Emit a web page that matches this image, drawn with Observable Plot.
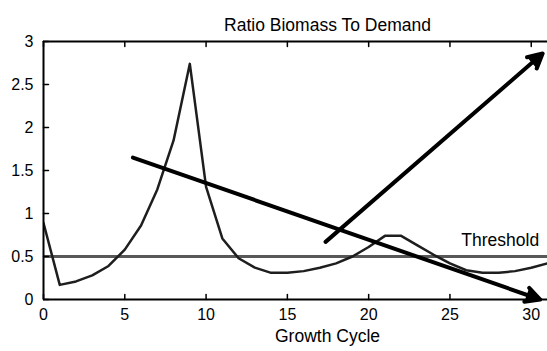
<!DOCTYPE html>
<html>
<head>
<meta charset="utf-8">
<script src="https://cdn.jsdelivr.net/npm/d3@7"></script>
<script src="https://cdn.jsdelivr.net/npm/@observablehq/plot@0.6"></script>
<style>
  body { margin: 0; background: #fff; }
  svg g[aria-label="arrow"] path { fill: #000; }
</style>
</head>
<body>
<div id="chart"></div>
<script>
const title = "Ratio Biomass To Demand";
const xLabel = "Growth Cycle";
const thresholdLabel = "Threshold";

const cycles = [0,1,2,3,4,5,6,7,8,9,10,11,12,13,14,15,16,17,18,19,20,21,22,23,24,25,26,27,28,29,30,31];
const ratios = [0.89,0.17,0.21,0.28,0.39,0.58,0.86,1.28,1.85,2.74,1.31,0.71,0.48,0.37,0.31,0.31,0.33,0.37,0.42,0.50,0.61,0.74,0.74,0.63,0.52,0.42,0.34,0.31,0.31,0.33,0.37,0.42];

const threshold = [0.5];

const arrowX1 = [5.5, 17.35];
const arrowY1 = [1.65, 0.67];
const arrowX2 = [30.55, 30.7];
const arrowY2 = [0.0, 2.86];

const xTicks = [0,5,10,15,20,25,30];
const yTicks = [0,0.5,1,1.5,2,2.5,3];

const series = cycles.map((c, i) => ({cycle: c, ratio: ratios[i]}));
const arrows = arrowX1.map((x, i) => ({x1: x, y1: arrowY1[i], x2: arrowX2[i], y2: arrowY2[i]}));

const font = "'Liberation Sans', Arial, sans-serif";
const tickShape = {draw(context, l) { context.moveTo(0, 0); context.lineTo(0, -l); }};
const yMin = d3.min(yTicks), yMax = d3.max(yTicks);

const chart = Plot.plot({
  width: 547,
  height: 351,
  marginLeft: 43,
  marginRight: 0,
  marginTop: 41,
  marginBottom: 52,
  style: {fontFamily: font, fontSize: "16px", color: "#000", background: "#fff"},
  x: {domain: [0, 31]},
  y: {domain: [yMin, yMax]},
  marks: [
    Plot.ruleY(threshold, {stroke: "#585858", strokeWidth: 3}),
    Plot.line(series, {x: "cycle", y: "ratio", stroke: "#1e1e1e", strokeWidth: 2.5, clip: true}),
    Plot.ruleY([yMin, yMax], {stroke: "#000", strokeWidth: 2}),
    Plot.ruleX([0], {stroke: "#000", strokeWidth: 2}),
    Plot.vector(xTicks, {x: d => d, y: yMin, length: 5, rotate: 0, anchor: "start", shape: tickShape, stroke: "#000", strokeWidth: 1.5}),
    Plot.vector(xTicks, {x: d => d, y: yMax, length: 5, rotate: 180, anchor: "start", shape: tickShape, stroke: "#000", strokeWidth: 1.5}),
    Plot.vector(yTicks, {x: 0, y: d => d, length: 5, rotate: 90, anchor: "start", shape: tickShape, stroke: "#000", strokeWidth: 1.5}),
    Plot.axisX(xTicks, {anchor: "bottom", tickSize: 0, tickPadding: 9, label: null, fontSize: 16, tickFormat: d => String(d)}),
    Plot.axisY(yTicks, {anchor: "left", tickSize: 0, tickPadding: 10, label: null, fontSize: 16, tickFormat: d => String(d)}),
    Plot.text([thresholdLabel], {x: arrowX2.slice(0,1), y: threshold, text: d => d, textAnchor: "end", dy: -16, dx: -1, fontSize: 17.5}),
    Plot.arrow(arrows, {x1: "x1", y1: "y1", x2: "x2", y2: "y2", stroke: "#000", strokeWidth: 4, headLength: 6, headAngle: 55}),
    Plot.text([title], {frameAnchor: "top", dx: 32, dy: -23, fontSize: 17.5, text: d => d}),
    Plot.text([xLabel], {frameAnchor: "bottom", dx: 32, dy: 42, fontSize: 17.5, text: d => d})
  ]
});
document.getElementById("chart").appendChild(chart);
</script>
</body>
</html>
